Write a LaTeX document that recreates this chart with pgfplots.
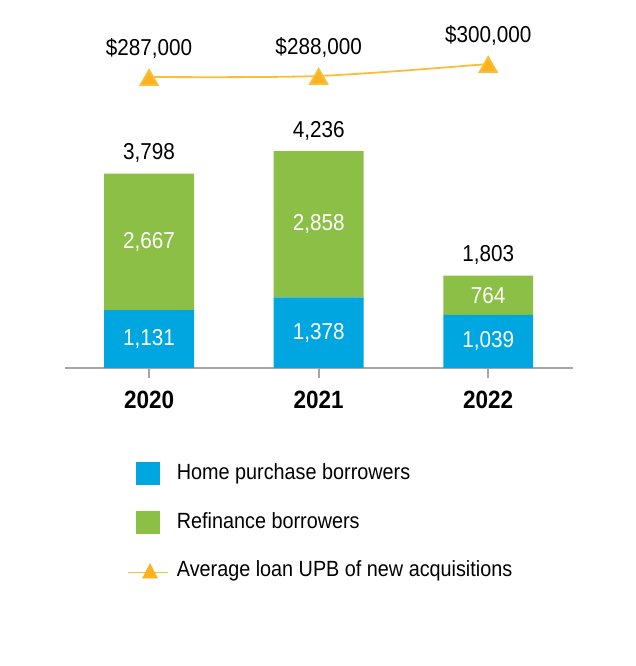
\documentclass[border=0pt]{standalone}
\usepackage{pgfplots}
\pgfplotsset{compat=1.18}
\usepackage{fontspec}
\setmainfont{Liberation Sans}[FakeStretch=0.9]
\definecolor{cblue}{HTML}{00A6E0}
\definecolor{cgreen}{HTML}{8BBF45}
\definecolor{corange}{HTML}{FAB31E}
\definecolor{cline}{HTML}{FBBE3A}
\definecolor{cgray}{HTML}{A6A6A6}
\protected\def\dol{\textdollar}

\pgfplotstableread{
x home refi total hmid rmid
0 1131 2667 3798 565.5 2464.5
1 1378 2858 4236 689 2807
2 1039 764 1803 519.5 1421
}\bars

\pgfplotstableread{
x upb
0 287000
1 288000
2 300000
}\upb

\pgfplotsset{
  base/.style={scale only axis, width=508pt, height=348pt,
    at={(65pt,298pt)}, anchor=south west,
    xmin=-0.496, xmax=2.50, clip=false,
    /pgf/number format/.cd, fixed, precision=0, 1000 sep={,}, assume math mode=true},
}

\begin{document}
\fontsize{23pt}{27pt}\selectfont
\begin{tikzpicture}
% bars
\begin{axis}[base,
  ybar stacked, bar width=0.53,
  ymin=0, ymax=6800,
  axis x line*=bottom, axis y line=none,
  x axis line style={cgray, line width=1.8pt, -},
  xtick={0,1,2}, xticklabels={2020,2021,2022},
  major tick style={cgray, line width=1.8pt},
  tick align=outside, major tick length=10pt,
  xticklabel style={font=\fontsize{25pt}{29pt}\selectfont\bfseries, yshift=-5pt},
  legend style={at={(rel axis cs:0.116,-0.264)}, anchor=north west,
    draw=none, fill=none, font=\fontsize{22pt}{26pt}\selectfont,
    row sep=25.5pt, nodes={inner sep=0pt, anchor=west},
    /tikz/column 1/.style={column sep=8pt}},
  legend cell align=left,
]
\addplot[fill=cblue, draw=none,
  legend image code/.code={\fill[cblue] (0pt,-11.5pt) rectangle (24pt,11.5pt);}]
  table[x=x, y=home] {\bars};
\addlegendentry{Home purchase borrowers}
\addplot[fill=cgreen, draw=none,
  legend image code/.code={\fill[cgreen] (0pt,-11.5pt) rectangle (24pt,11.5pt);}]
  table[x=x, y=refi] {\bars};
\addlegendentry{Refinance borrowers}
\addlegendimage{legend image code/.code={
  \path[draw=none, fill=none] (0pt,-11.5pt) rectangle (24pt,11.5pt);
  \draw[cline, line width=1.8pt] (-8pt,-2pt) -- (32pt,-2pt);
  \fill[corange] (14pt,7pt) -- (6.5pt,-7.5pt) -- (21.5pt,-7.5pt) -- cycle;}}
\addlegendentry{Average loan UPB of new acquisitions}
\end{axis}
% labels for bars
\begin{axis}[base, ymin=0, ymax=6800, axis lines=none]
\addplot[only marks, mark=none, nodes near coords,
  point meta=explicit,
  every node near coord/.style={white, anchor=center, inner sep=0pt}]
  table[x=x, y=hmid, meta=home] {\bars};
\addplot[only marks, mark=none, nodes near coords,
  point meta=explicit,
  every node near coord/.style={white, anchor=center, inner sep=0pt}]
  table[x=x, y=rmid, meta=refi] {\bars};
\addplot[only marks, mark=none, nodes near coords,
  point meta=explicit,
  every node near coord/.style={black, anchor=base, inner sep=0pt, yshift=14pt}]
  table[x=x, y=total, meta=total] {\bars};
\end{axis}
% line
\begin{axis}[base, ymin=-4000, ymax=344000, axis lines=none]
\addplot[cline, line width=1.8pt, smooth,
  mark=triangle*, mark size=10pt, mark options={fill=corange, draw=none, yshift=-3pt},
  nodes near coords={\dol\pgfmathprintnumber{\pgfplotspointmeta}},
  point meta=explicit,
  every node near coord/.style={black, anchor=base, inner sep=0pt, yshift=24pt}]
  table[x=x, y=upb, meta=upb] {\upb};
\end{axis}
\pgfresetboundingbox
\path[use as bounding box] (0pt,0pt) rectangle (636pt,666pt);
\end{tikzpicture}
\end{document}
